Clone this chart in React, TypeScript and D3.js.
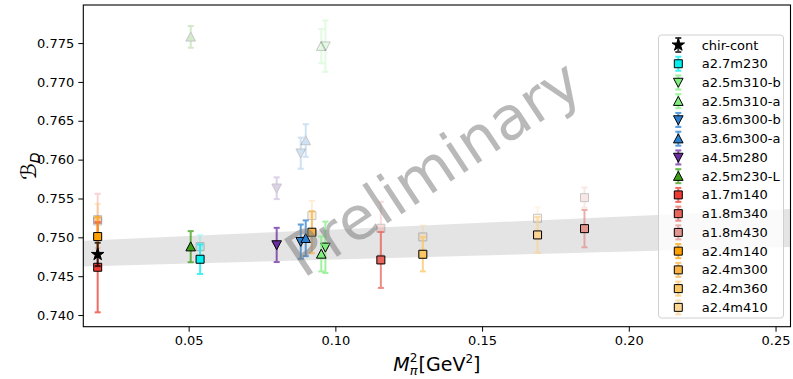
import React, { useEffect, useRef } from 'react';
import * as d3 from 'd3';

// ensembles
const names = ['chir-cont', 'a2.7m230', 'a2.5m310-b', 'a2.5m310-a', 'a3.6m300-b', 'a3.6m300-a', 'a4.5m280', 'a2.5m230-L',
  'a1.7m140', 'a1.8m340', 'a1.8m430', 'a2.4m140', 'a2.4m300', 'a2.4m360', 'a2.4m410'];
const mpi2 = [0.0190, 0.0539, 0.0966, 0.0952, 0.0882, 0.0899, 0.0800, 0.0507,
  0.0190, 0.1155, 0.1849, 0.0190, 0.0920, 0.1298, 0.1689];
const bD = [0.7478, 0.74718, 0.74872, 0.74786, 0.74945, 0.74988, 0.74902, 0.7488,
  0.74615, 0.74709, 0.75112, 0.7501, 0.75066, 0.74782, 0.75031];
const bDErr = [0.0015, 0.0019, 0.0033, 0.00225, 0.0022, 0.0023, 0.0022, 0.0020,
  0.0058, 0.0036, 0.0024, 0.0025, 0.0027, 0.0022, 0.0023];
// faded (raw) points, null for chir-cont
const rawBD = [null, 0.7488, 0.7746, 0.7746, 0.76083, 0.76246, 0.75632, 0.7758,
  0.7521, 0.75117, 0.75511, 0.7523, 0.7528, 0.75005, 0.75246];
const rawErr = [null, 0.0015, 0.0033, 0.0022, 0.0020, 0.0021, 0.0014, 0.0014,
  0.0035, 0.0034, 0.0013, 0.0020, 0.0019, 0.0015, 0.0014];

// fit band
const bandX = [0.0141, 0.05, 0.10, 0.15, 0.20, 0.2549];
const bandLo = [0.74625, 0.74663, 0.74715, 0.74767, 0.74819, 0.74876];
const bandHi = [0.74955, 0.75017, 0.75101, 0.75187, 0.75271, 0.75364];

const xTicks = [0.05, 0.10, 0.15, 0.20, 0.25];
const yTicks = [0.740, 0.745, 0.750, 0.755, 0.760, 0.765, 0.770, 0.775];

const colors = ['#000000', '#00f0f0', '#7fee7f', '#7fee7f', '#2a7fd0', '#2a7fd0', '#6a2c9e', '#3c9e16',
  '#ee3b33', '#e8665c', '#e39590', '#ffa200', '#f7b445', '#fbc664', '#fcd494'];
const markers = ['star', 'square', 'down', 'up', 'down', 'up', 'down', 'up',
  'square', 'square', 'square', 'square', 'square', 'square', 'square'];

const W = 793, H = 379;
const L = 83.3, R = 790.5, T = 5, B = 326.7;
const font = 'DejaVu Sans, sans-serif';

function markerPath(kind: string) {
  if (kind === 'square') return 'M-4,-4L4,-4L4,4L-4,4Z';
  if (kind === 'up') return 'M0,-4.8L-4.8,4.2L4.8,4.2Z';
  if (kind === 'down') return 'M0,4.8L-4.8,-4.2L4.8,-4.2Z';
  return d3.symbol().type(d3.symbolStar).size(48)();
}

export default function App() {
  const svgRef = useRef(null);

  useEffect(() => {
    const svg = d3.select(svgRef.current);
    svg.selectAll('*').remove();

    const x = d3.scaleLinear().domain([0.0141, 0.2551]).range([L, R]);
    const y = d3.scaleLinear().domain([0.7385, 0.7799]).range([B, T]);

    svg.append('rect').attr('width', W).attr('height', H).attr('fill', '#fff');

    const clip = svg.append('clipPath').attr('id', 'plotclip');
    clip.append('rect').attr('x', L).attr('y', T).attr('width', R - L).attr('height', B - T);

    const plot = svg.append('g').attr('clip-path', 'url(#plotclip)');

    const area = d3.area<number>()
      .x((d, i) => x(bandX[i]))
      .y0((d, i) => y(bandLo[i]))
      .y1((d, i) => y(bandHi[i]));
    plot.append('path').attr('d', area(bandX)).attr('fill', '#d9d9d9').attr('opacity', 0.7);

    const drawPoint = (g, i, val, err, faded) => {
      const cx = x(mpi2[i]);
      const cap = 3;
      const grp = g.append('g').attr('opacity', faded ? 0.22 : 1);
      const eb = grp.append('g').attr('stroke', colors[i]).attr('stroke-width', 2).attr('opacity', faded ? 1 : 0.75);
      eb.append('line').attr('x1', cx).attr('x2', cx).attr('y1', y(val - err)).attr('y2', y(val + err));
      eb.append('line').attr('x1', cx - cap).attr('x2', cx + cap).attr('y1', y(val - err)).attr('y2', y(val - err));
      eb.append('line').attr('x1', cx - cap).attr('x2', cx + cap).attr('y1', y(val + err)).attr('y2', y(val + err));
      grp.append('path')
        .attr('d', markerPath(markers[i]))
        .attr('transform', `translate(${cx},${y(val)})`)
        .attr('fill', colors[i])
        .attr('stroke', '#000')
        .attr('stroke-width', 1);
    };

    // faded first
    names.forEach((n, i) => {
      if (rawBD[i] !== null) drawPoint(plot, i, rawBD[i], rawErr[i], true);
    });
    names.forEach((n, i) => {
      if (i > 0) drawPoint(plot, i, bD[i], bDErr[i], false);
    });
    drawPoint(plot, 0, bD[0], bDErr[0], false);

    // watermark
    svg.append('text')
      .attr('transform', 'translate(433,168) rotate(-33.5)')
      .attr('text-anchor', 'middle')
      .attr('dominant-baseline', 'central')
      .attr('font-family', font)
      .attr('font-size', 60)
      .attr('fill', '#808080')
      .attr('opacity', 0.55)
      .text('Preliminary');

    // axes
    const xAxis = d3.axisBottom(x).tickValues(xTicks).tickFormat(d3.format('.2f')).tickSize(5).tickPadding(4);
    const yAxis = d3.axisLeft(y).tickValues(yTicks).tickFormat(d3.format('.3f')).tickSize(5).tickPadding(4);
    const gx = svg.append('g').attr('transform', `translate(0,${B})`).call(xAxis);
    const gy = svg.append('g').attr('transform', `translate(${L},0)`).call(yAxis);
    [gx, gy].forEach(g => {
      g.select('.domain').remove();
      g.selectAll('text').attr('font-family', font).attr('font-size', 13).attr('fill', '#000');
      g.selectAll('line').attr('stroke', '#000').attr('stroke-width', 1);
    });

    svg.append('rect').attr('x', L).attr('y', T).attr('width', R - L).attr('height', B - T)
      .attr('fill', 'none').attr('stroke', '#000').attr('stroke-width', 1.1);

    // legend
    const lg = svg.append('g');
    lg.append('rect').attr('x', 658.5).attr('y', 35).attr('width', 125).attr('height', 283)
      .attr('rx', 3).attr('fill', '#fff').attr('fill-opacity', 0.8).attr('stroke', '#d0d0d0');
    names.forEach((n, i) => {
      const ly = 45 + i * 18.74;
      const lx = 678.3;
      const eb = lg.append('g').attr('stroke', colors[i]).attr('stroke-width', 2).attr('opacity', 0.75);
      eb.append('line').attr('x1', lx).attr('x2', lx).attr('y1', ly - 7).attr('y2', ly + 7);
      eb.append('line').attr('x1', lx - 3).attr('x2', lx + 3).attr('y1', ly - 7).attr('y2', ly - 7);
      eb.append('line').attr('x1', lx - 3).attr('x2', lx + 3).attr('y1', ly + 7).attr('y2', ly + 7);
      lg.append('path').attr('d', markerPath(markers[i])).attr('transform', `translate(${lx},${ly})`)
        .attr('fill', colors[i]).attr('stroke', '#000').attr('stroke-width', 1);
      lg.append('text').attr('x', 701.7).attr('y', ly).attr('dominant-baseline', 'central')
        .attr('font-family', font).attr('font-size', 13).attr('fill', '#000').text(n);
    });

    // x label: pieces placed one after another, measured
    const xlg = svg.append('g');
    const base = 371;
    let cur = 0;
    const piece = (txt, size, dy, italic, advance = true) => {
      const t = xlg.append('text').attr('x', cur).attr('y', base + dy)
        .attr('font-family', font).attr('font-size', size).attr('fill', '#000')
        .attr('font-style', italic ? 'italic' : 'normal').text(txt);
      const w = (t.node() as SVGTextElement).getComputedTextLength();
      if (advance) cur += w;
      return w;
    };
    piece('M', 19, 0, true);
    const w1 = piece('π', 13, 4, true, false);
    const w2 = piece('2', 12, -9, false, false);
    cur += Math.max(w1, w2) + 1;
    piece('[GeV', 19, 0, false);
    piece('2', 12, -8, false);
    piece(']', 19, 0, false);
    xlg.attr('transform', `translate(${(L + R) / 2 - cur / 2},0)`);

    const yl = svg.append('text').attr('transform', 'translate(36,166) rotate(-90)').attr('text-anchor', 'middle')
      .attr('font-family', font).attr('font-size', 21).attr('fill', '#000');
    yl.append('tspan').attr('font-style', 'italic').text('ℬ');
    yl.append('tspan').attr('font-size', 14).attr('dy', 4).attr('font-style', 'italic').text('D');
  }, []);

  return <svg ref={svgRef} width={W} height={H} style={{ position: 'absolute', left: 0, top: 0 }} />;
}
